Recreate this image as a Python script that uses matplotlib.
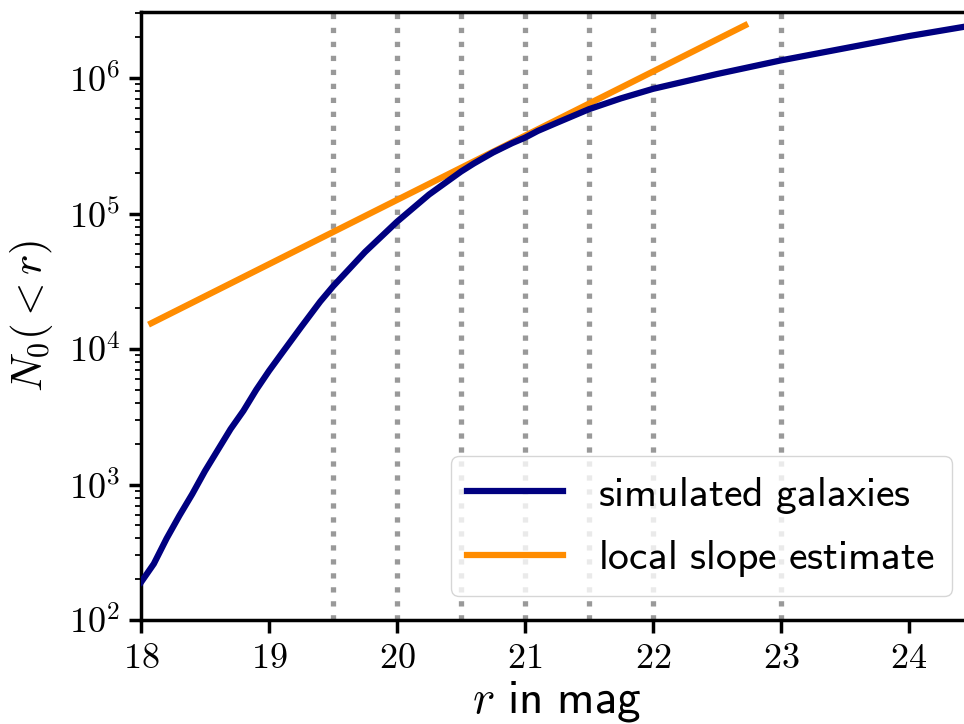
import matplotlib
matplotlib.use('Agg')
import matplotlib.pyplot as plt
import numpy as np
from matplotlib.ticker import FuncFormatter, NullFormatter, FixedLocator

plt.rcParams['mathtext.fontset'] = 'cm'

# cumulative number counts
mag = [18.0, 18.1, 18.2, 18.3, 18.4, 18.5, 18.6, 18.7, 18.8, 18.9, 19.0, 19.1,
       19.25, 19.4, 19.5, 19.75, 20.0, 20.25, 20.5, 20.6, 20.75, 20.9, 21.0, 21.1,
       21.25, 21.5, 21.75, 22.0, 22.5, 23.0, 23.5, 24.0, 24.5]
counts = [190, 260, 400, 590, 850, 1260, 1800, 2570, 3500, 5000, 6900, 9300,
          14500, 22400, 29000, 52000, 87000, 138000, 204000, 234000, 282000, 331000,
          363000, 407000, 468000, 589000, 708000, 832000, 1070000, 1350000,
          1660000, 2040000, 2450000]

# local slope (tangent) line
slope_mag = [18.08, 22.72]
slope_counts = [1.55e4, 2.45e6]

cut_mags = [19.5, 20.0, 20.5, 21.0, 21.5, 22.0, 23.0]

fig = plt.figure(figsize=(9.64, 7.24), dpi=100)
ax = fig.add_axes([0.1463, 0.1436, 0.863, 0.8398])

for m in cut_mags:
    ax.axvline(m, color='#999999', linestyle=':', linewidth=3.8, zorder=1)

ax.plot(mag, counts, color='navy', linewidth=4.5, label=r'$\mathsf{simulated\ galaxies}$', zorder=3)
ax.plot(slope_mag, slope_counts, color='darkorange', linewidth=4.5,
        label=r'$\mathsf{local\ slope\ estimate}$', zorder=2)

ax.set_yscale('log')
ax.set_xlim(18, 24.5)
ax.set_ylim(1e2, 3.07e6)

ax.xaxis.set_major_locator(FixedLocator([18, 19, 20, 21, 22, 23, 24]))
ax.xaxis.set_major_formatter(FuncFormatter(lambda v, p: r'$\mathrm{%d}$' % round(v)))
ax.yaxis.set_major_formatter(FuncFormatter(lambda v, p: r'$10^{%d}$' % round(np.log10(v))))
ax.yaxis.set_minor_formatter(NullFormatter())

ax.tick_params(which='major', labelsize=26, length=9, width=2.5, pad=6)
ax.tick_params(which='minor', length=4, width=1.3)
for s in ax.spines.values():
    s.set_linewidth(2.5)

ax.set_xlabel(r'$r\ \mathsf{in\ mag}$', fontsize=34, labelpad=3)
ax.set_ylabel(r'$N_0(<r)$', fontsize=31, labelpad=10)

ax.legend(loc='lower right', fontsize=30, handlelength=2.3, handletextpad=0.85,
          bbox_to_anchor=(1.0, 0.005))

fig.savefig('out.png', dpi=100)
